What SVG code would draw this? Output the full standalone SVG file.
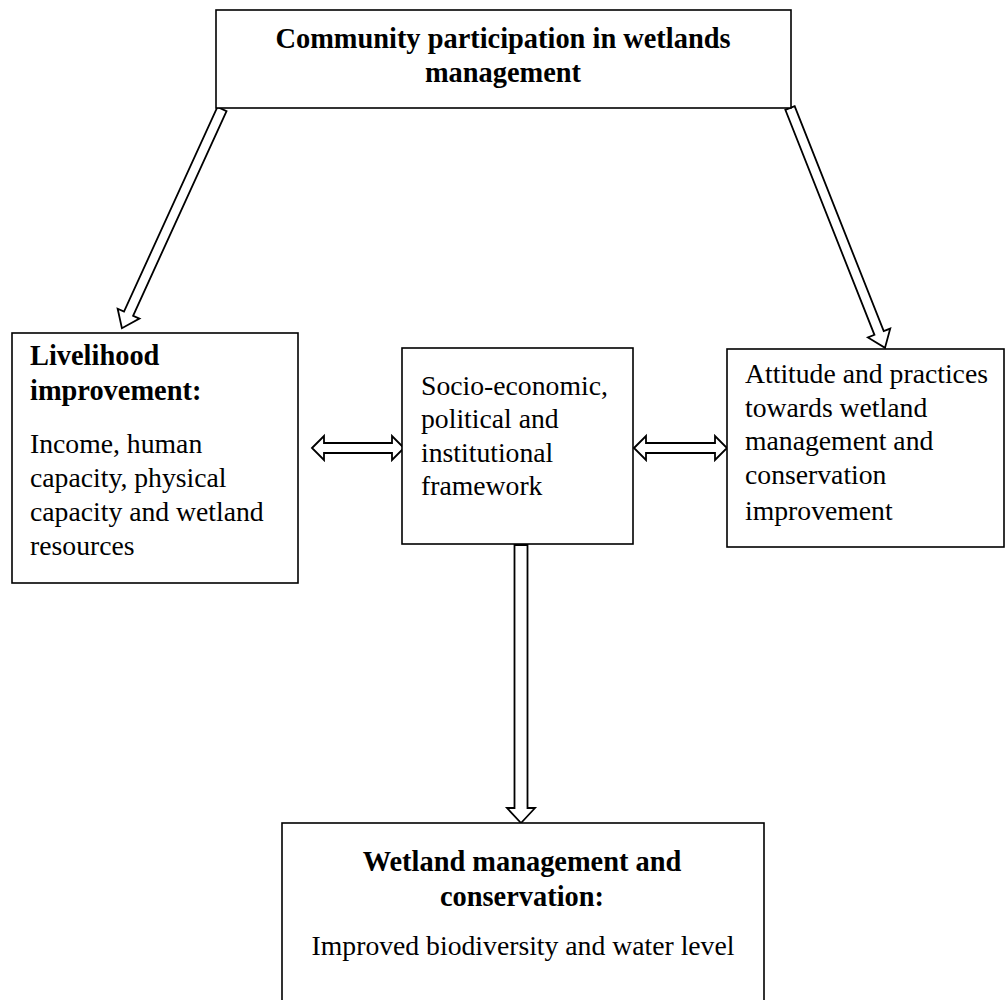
<svg xmlns="http://www.w3.org/2000/svg" width="1006" height="1000" viewBox="0 0 1006 1000">
<style>
.box{fill:#fff;stroke:#000;stroke-width:1.6}
.arr{fill:#fff;stroke:#000;stroke-width:1.8;stroke-linejoin:miter}
text{font-family:"Liberation Serif","Times New Roman",serif;font-size:27.7px;fill:#000}
.b{font-weight:bold;font-size:28.4px}
.c{text-anchor:middle}
</style>
<rect width="1006" height="1000" fill="#fff"/>
<g id="connectors">
<polygon class="arr" transform="translate(222,109) rotate(114.54)" points="0,-5 225,-5 225,-12 241,0 225,12 225,5 0,5"/>
<polygon class="arr" transform="translate(790,108) rotate(68.4)" points="0,-5 242,-5 242,-12 258,0 242,12 242,5 0,5"/>
<polygon class="arr" points="312,448 324,436 324,443 392,443 392,436 404,448 392,460 392,453 324,453 324,460"/>
<polygon class="arr" points="634,448 646,436 646,443 715,443 715,436 727,448 715,460 715,453 646,453 646,460"/>
<polygon class="arr" points="514.5,545 527.5,545 527.5,808 535,808 521,823 507,808 514.5,808"/>
</g>
<g id="n-top">
<rect class="box" x="216" y="10" width="575" height="98"/>
<text class="b c" x="503" y="48">Community participation in wetlands</text>
<text class="b c" x="503" y="82">management</text>
</g>
<g id="n-livelihood">
<rect class="box" x="12" y="333" width="286" height="250"/>
<text class="b" x="30" y="365">Livelihood</text>
<text class="b" x="30" y="400">improvement:</text>
<text x="30" y="453">Income, human</text>
<text x="30" y="487">capacity, physical</text>
<text x="30" y="521">capacity and wetland</text>
<text x="30" y="555">resources</text>
</g>
<g id="n-socio">
<rect class="box" x="402" y="348" width="231" height="196"/>
<text x="421" y="395">Socio-economic,</text>
<text x="421" y="428">political and</text>
<text x="421" y="462">institutional</text>
<text x="421" y="495">framework</text>
</g>
<g id="n-attitude">
<rect class="box" x="727" y="349" width="277" height="198"/>
<text x="745" y="383">Attitude and practices</text>
<text x="745" y="417">towards wetland</text>
<text x="745" y="450">management and</text>
<text x="745" y="484">conservation</text>
<text x="745" y="520">improvement</text>
</g>
<g id="n-wetland">
<rect class="box" x="282" y="823" width="482" height="190"/>
<text class="b c" x="522" y="871">Wetland management and</text>
<text class="b c" x="522" y="906">conservation:</text>
<text class="c" x="523" y="955">Improved biodiversity and water level</text>
</g>
</svg>
